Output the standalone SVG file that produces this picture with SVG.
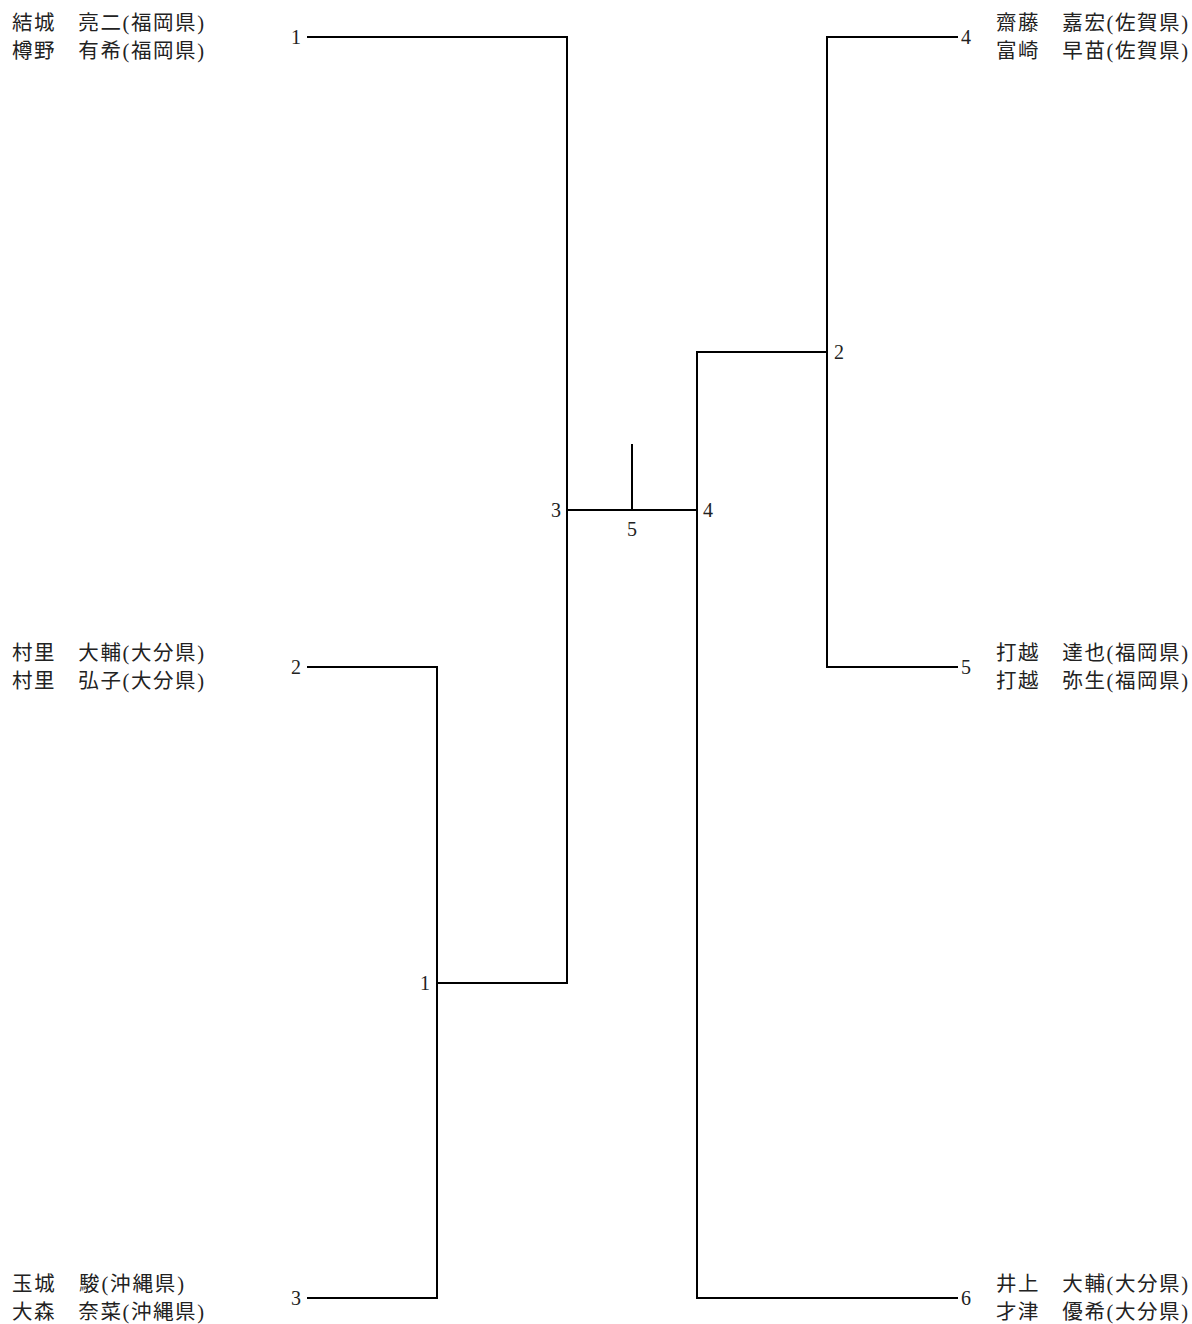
<svg xmlns="http://www.w3.org/2000/svg" width="1192" height="1324" viewBox="0 0 1192 1324">
<style>
.n{font-family:"Liberation Serif","Noto Sans CJK JP",serif;font-size:20.5px;fill:#222}
.d{font-family:"Liberation Serif",serif;font-size:20px;fill:#222}
.e{text-anchor:end}
.m{text-anchor:middle}
.c line{stroke:#000;stroke-width:2;stroke-linecap:square}
</style>
<rect width="1192" height="1324" fill="#fff"/>
<g id="p1"><text class="n" x="12" y="30" textLength="192" lengthAdjust="spacing">結城　亮二(福岡県)</text><text class="n" x="12" y="58" textLength="192" lengthAdjust="spacing">樽野　有希(福岡県)</text><text class="d e" x="301" y="44">1</text></g>
<g id="p2"><text class="n" x="12" y="660" textLength="192" lengthAdjust="spacing">村里　大輔(大分県)</text><text class="n" x="12" y="688" textLength="192" lengthAdjust="spacing">村里　弘子(大分県)</text><text class="d e" x="301" y="674">2</text></g>
<g id="p3"><text class="n" x="12" y="1291" textLength="172" lengthAdjust="spacing">玉城　駿(沖縄県)</text><text class="n" x="12" y="1319" textLength="192" lengthAdjust="spacing">大森　奈菜(沖縄県)</text><text class="d e" x="301" y="1305">3</text></g>
<g id="p4"><text class="n" x="996" y="30" textLength="192" lengthAdjust="spacing">齋藤　嘉宏(佐賀県)</text><text class="n" x="996" y="58" textLength="192" lengthAdjust="spacing">富崎　早苗(佐賀県)</text><text class="d" x="961" y="44">4</text></g>
<g id="p5"><text class="n" x="996" y="660" textLength="192" lengthAdjust="spacing">打越　達也(福岡県)</text><text class="n" x="996" y="688" textLength="192" lengthAdjust="spacing">打越　弥生(福岡県)</text><text class="d" x="961" y="674">5</text></g>
<g id="p6"><text class="n" x="996" y="1291" textLength="192" lengthAdjust="spacing">井上　大輔(大分県)</text><text class="n" x="996" y="1319" textLength="192" lengthAdjust="spacing">才津　優希(大分県)</text><text class="d" x="961" y="1305">6</text></g>
<g id="m1"><text class="d e" x="430" y="990">1</text></g>
<g id="m2"><text class="d" x="834" y="359">2</text></g>
<g id="m3"><text class="d e" x="561" y="517">3</text></g>
<g id="m4"><text class="d" x="703" y="517">4</text></g>
<g id="m5"><text class="d m" x="632" y="536">5</text></g>
<g id="connectors" class="c">
<line x1="308" y1="37" x2="567" y2="37"/>
<line x1="567" y1="37" x2="567" y2="983"/>
<line x1="437" y1="983" x2="567" y2="983"/>
<line x1="308" y1="667" x2="437" y2="667"/>
<line x1="437" y1="667" x2="437" y2="1298"/>
<line x1="308" y1="1298" x2="437" y2="1298"/>
<line x1="567" y1="510" x2="697" y2="510"/>
<line x1="632" y1="445" x2="632" y2="510"/>
<line x1="697" y1="352" x2="697" y2="1298"/>
<line x1="697" y1="352" x2="827" y2="352"/>
<line x1="827" y1="37" x2="827" y2="667"/>
<line x1="827" y1="37" x2="957" y2="37"/>
<line x1="827" y1="667" x2="957" y2="667"/>
<line x1="697" y1="1298" x2="957" y2="1298"/>
</g>
</svg>
